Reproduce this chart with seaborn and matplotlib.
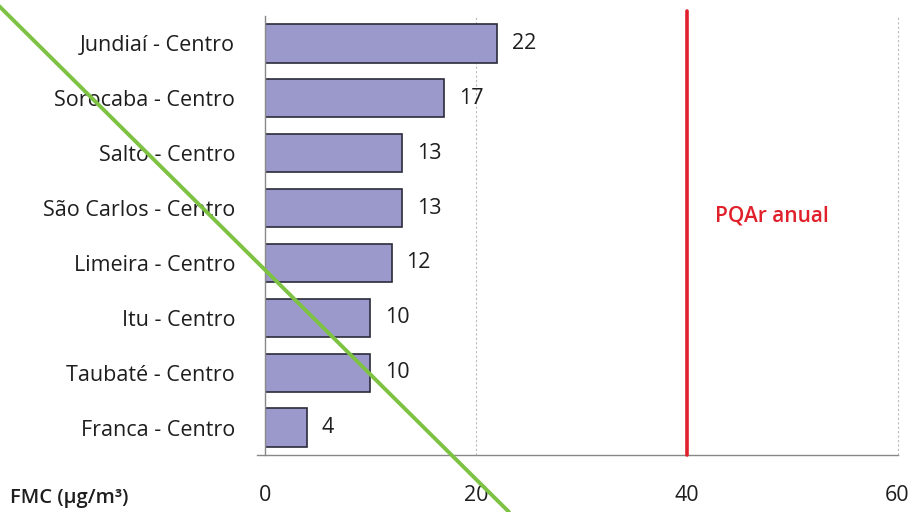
import matplotlib
matplotlib.use("Agg")
import matplotlib.pyplot as plt
from matplotlib.lines import Line2D
import numpy as np
import pandas as pd
import seaborn as sns

# data
stations = ["Jundiaí - Centro", "Sorocaba - Centro", "Salto - Centro", "São Carlos - Centro",
            "Limeira - Centro", "Itu - Centro", "Taubaté - Centro", "Franca - Centro"]
fmc = [22, 17, 13, 13, 12, 10, 10, 4]
pqar_anual = 40
x_ticks = [0, 20, 40, 60]

df = pd.DataFrame({"estacao": stations, "fmc": fmc})

sns.set_theme(style="white")
plt.rcParams["font.family"] = ["Open Sans", "DejaVu Sans"]

fig = plt.figure(figsize=(9.14, 5.12), dpi=100)
ax = fig.add_axes([0.290, 0.111, 0.692, 0.858])

sns.barplot(data=df, x="fmc", y="estacao", orient="h", color="#9b98cc",
            edgecolor="#2b2b3b", linewidth=1.2, width=0.7, saturation=1, ax=ax)

ax.set_xlim(0, 60)
ax.set_ylim(len(stations) - 0.5, -0.5)
ax.set_xticks(x_ticks)
ax.set_xticklabels([str(t) for t in x_ticks], fontsize=15.5, color="#1e1e1e")
ax.set_yticks(range(len(stations)))
ax.set_yticklabels(stations, fontsize=15.5, color="#1e1e1e")
ax.tick_params(axis="y", length=0, pad=21.5)
ax.tick_params(axis="x", length=5, direction="inout", color="#888888", pad=19)
ax.set_yticks(np.arange(-0.5, len(stations), 1), minor=True)
ax.tick_params(axis="y", which="minor", length=7, color="#888888", width=1)
ax.set_xlabel("")
ax.set_ylabel("")

for g in x_ticks[1:]:
    ax.axvline(g, color="#bbbbbb", lw=0.8, ls=(0, (2, 2)), zorder=0, clip_on=False)

for s in ["top", "right"]:
    ax.spines[s].set_visible(False)
for s in ["left", "bottom"]:
    ax.spines[s].set_color("#888888")
    ax.spines[s].set_linewidth(1)
ax.spines["bottom"].set_bounds(-0.8, 60)

for i, v in enumerate(fmc):
    ax.text(v + 1.4, i, str(v), va="center", ha="left", fontsize=15.5, color="#1e1e1e")

ax.axvline(pqar_anual, ymin=0, ymax=1.01, color="#e0202a", lw=2.6, clip_on=False, zorder=3)
ax.text(pqar_anual + 2.7, 3.15, "PQAr anual", color="#e0202a", fontsize=15,
        fontweight="semibold", va="center", ha="left")

fig.text(0.011, 0.018, "FMC (µg/m³)", fontsize=14.5, fontweight="semibold", color="#1e1e1e")

fig.add_artist(Line2D([-7 / 914, 509 / 914], [1, 0], transform=fig.transFigure,
                      color="#7dc242", lw=2.8, zorder=10))

fig.savefig("out.png", dpi=100)
